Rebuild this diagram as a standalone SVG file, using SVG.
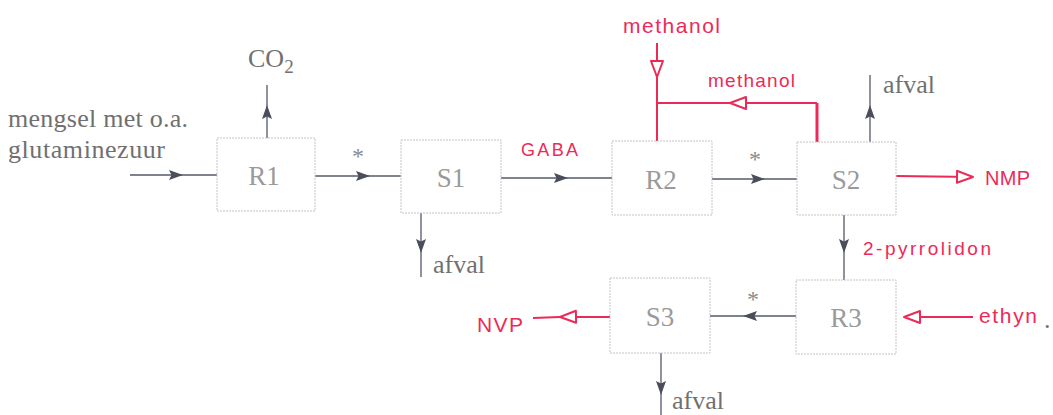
<svg xmlns="http://www.w3.org/2000/svg" width="1053" height="415" viewBox="0 0 1053 415">
<defs>
<marker id="ah" markerUnits="userSpaceOnUse" markerWidth="16" markerHeight="12" refX="14" refY="5" orient="auto"><path d="M0,0 L14,5 L0,10 L2.5,5 z" fill="#4a4d5a"/></marker>
<marker id="rh" markerUnits="userSpaceOnUse" markerWidth="20" markerHeight="16" refX="17" refY="7" orient="auto"><path d="M1,1 L17,7 L1,13 z" fill="#fff" stroke="#ec2a58" stroke-width="2" stroke-linejoin="round"/></marker>
</defs>
<style>
.box{fill:#fff;stroke:#c4c4c4;stroke-width:1;stroke-dasharray:2 1}
.lbl{font-family:"Liberation Serif","Times New Roman",serif;font-size:27px;fill:#9a9a9a;text-anchor:middle}
.g{font-family:"Liberation Serif","Times New Roman",serif;font-size:26px;fill:#707070}
.ast{font-family:"Liberation Serif","Times New Roman",serif;font-size:24px;fill:#8a8a8a;text-anchor:middle}
.r{font-family:"Liberation Sans",Arial,sans-serif;fill:#ec2a58}
.ln{fill:none;stroke:#54586a;stroke-width:1.3;marker-mid:url(#ah)}
.rl{fill:none;stroke:#ec2a58;stroke-width:2}
</style>
<rect width="1053" height="415" fill="#fff"/>

<g id="connectors">
<polyline class="ln" points="130,175 183,175 217,175"/>
<polyline class="ln" points="315,176 370,176 401,176"/>
<polyline class="ln" points="501,178 568,178 612,178"/>
<polyline class="ln" points="712,179 765,179 797,179"/>
<polyline class="ln" points="267,138 267,105 267,85"/>
<polyline class="ln" points="421,213 421,253 421,277"/>
<polyline class="ln" points="870,142 870,105 870,75"/>
<polyline class="ln" points="844,215 844,253 844,280"/>
<polyline class="ln" points="796,316 743,316 710,316"/>
<polyline class="ln" points="661,353 661,395 661,415"/>
<polyline class="rl" points="657,43 657,77 657,141" marker-mid="url(#rh)"/>
<polyline class="rl" points="817,103 730,103 657,103" marker-mid="url(#rh)"/>
<path d="M817,142 V103" fill="none" stroke="#ec2a58" stroke-width="3"/>
<polyline class="rl" points="896,176 973,177" marker-end="url(#rh)"/>
<polyline class="rl" points="610,317 560,317 533,318" marker-mid="url(#rh)"/>
<polyline class="rl" points="973,317 904,317" marker-end="url(#rh)"/>
</g>

<g id="R1"><rect class="box" x="217" y="138" width="98" height="73"/><text class="lbl" x="264" y="185">R1</text></g>
<g id="S1"><rect class="box" x="401" y="140" width="100" height="73"/><text class="lbl" x="451" y="187">S1</text></g>
<g id="R2"><rect class="box" x="612" y="141" width="100" height="74"/><text class="lbl" x="661" y="189">R2</text></g>
<g id="S2"><rect class="box" x="797" y="142" width="99" height="73"/><text class="lbl" x="846" y="189">S2</text></g>
<g id="S3"><rect class="box" x="610" y="278" width="100" height="75"/><text class="lbl" x="660" y="326">S3</text></g>
<g id="R3"><rect class="box" x="796" y="280" width="100" height="74"/><text class="lbl" x="846" y="327">R3</text></g>

<g id="labels">
<text class="g" x="8" y="127" textLength="180">mengsel met o.a.</text>
<text class="g" x="8" y="158" textLength="157">glutaminezuur</text>
<text class="g" x="248" y="67">CO<tspan font-size="19" dy="6">2</tspan></text>
<text class="g" x="433" y="273">afval</text>
<text class="g" x="883" y="93">afval</text>
<text class="g" x="672" y="409">afval</text>
<text class="ast" x="358" y="164">*</text>
<text class="ast" x="755" y="167">*</text>
<text class="ast" x="753" y="307">*</text>
<text class="r" x="623" y="33" font-size="21" textLength="97">methanol</text>
<text class="r" x="708" y="87" font-size="19" textLength="87">methanol</text>
<text class="r" x="521" y="156" font-size="18" textLength="57">GABA</text>
<text class="r" x="985" y="185" font-size="20" textLength="45">NMP</text>
<text class="r" x="863" y="255" font-size="19" textLength="128">2-pyrrolidon</text>
<text class="r" x="477" y="332" font-size="21" textLength="46">NVP</text>
<text class="r" x="979" y="323" font-size="21" textLength="58">ethyn</text>
<text class="g" x="1044" y="328" font-size="20">.</text>
</g>
</svg>
